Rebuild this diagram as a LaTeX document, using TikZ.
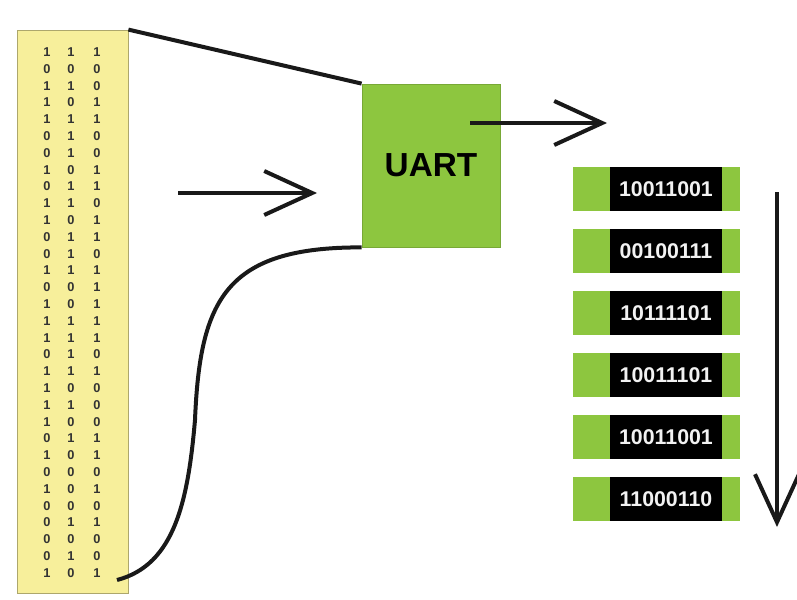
\documentclass[tikz,border=0pt]{standalone}
\usepackage{fontspec}
\setmainfont{Liberation Sans}
\usetikzlibrary{arrows.meta}
\definecolor{tapeyellow}{RGB}{247,239,155}
\definecolor{uartgreen}{RGB}{141,198,63}
\begin{document}
\begin{tikzpicture}[x=0.75pt,y=-0.75pt,
    tape/.style={draw=tapeyellow!70!black, line width=0.6pt, fill=tapeyellow, minimum width=83.25pt, minimum height=422.25pt, inner sep=0pt},
    bit/.style={font=\fontsize{9.6}{11}\selectfont\bfseries, text=black!80, inner sep=0pt},
    uartbox/.style={draw=uartgreen!85!black, line width=0.6pt, fill=uartgreen, minimum width=103.5pt, minimum height=122.25pt, inner sep=0pt, font=\fontsize{25}{28}\selectfont\bfseries},
    bytebox/.style={fill=uartgreen, minimum width=125.25pt, minimum height=33pt, inner sep=0pt},
    bytetext/.style={fill=black, text=black!5, minimum width=84pt, minimum height=33pt, inner sep=0pt, font=\fontsize{16}{18}\selectfont\bfseries},
    wire/.style={line width=3pt, black!90},
    flow/.style={line width=3pt, black!90, -{Straight Barb[length=36pt,width=33pt]}}]
\useasboundingbox (0,0) rectangle (797,600);

% serial bit stream
\node[tape] (bits) at (72.5,311.5) {};
\foreach \a/\b/\c [count=\i] in {1/1/1,0/0/0,1/1/0,1/0/1,1/1/1,0/1/0,0/1/0,1/0/1,0/1/1,1/1/0,1/0/1,0/1/1,0/1/0,1/1/1,0/0/1,1/0/1,
    1/1/1,1/1/1,0/1/0,1/1/1,1/0/0,1/1/0,1/0/0,0/1/1,1/0/1,0/0/0,1/0/1,0/0/0,0/1/1,0/0/0,0/1/0,1/0/1}
{
    \node[bit] at (47,{52+16.8*(\i-1)}) {\a};
    \node[bit] at (71,{52+16.8*(\i-1)}) {\b};
    \node[bit] at (97,{52+16.8*(\i-1)}) {\c};
}

% UART
\node[uartbox] (uart) at (431,165.5) {UART};

% bytes
\foreach \v [count=\i] in {10011001,00100111,10111101,10011101,10011001,11000110}
{
    \node[bytebox] (b\i) at (656.5,{189+62*(\i-1)}) {};
    \node[bytetext] (t\i) at (666,{189+62*(\i-1)}) {\v};
}

% wires
\coordinate (tapeend) at (117,580);
\draw[wire] (bits.north east) -- (uart.north west);
\draw[wire] (tapeend) .. controls (175,565) and (188,500) .. (195,420) .. controls (200,300) and (225,247) .. (uart.south west);

% arrows
\coordinate (inA) at (178,193);
\coordinate (inB) at (317,193);
\coordinate (outA) at (470,123);
\coordinate (outB) at (607,123);
\coordinate (downA) at (777,192);
\coordinate (downB) at (777,527);
\draw[flow] (inA) -- (inB);
\draw[flow] (outA) -- (outB);
\draw[flow] (downA) -- (downB);

\end{tikzpicture}
\end{document}
